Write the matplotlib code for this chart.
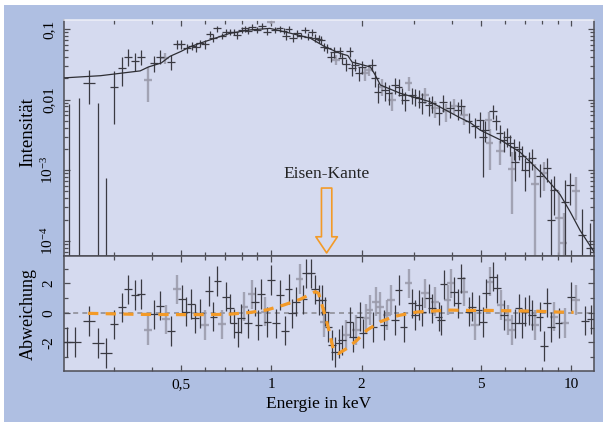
import numpy as np
import matplotlib
matplotlib.use('Agg')
import matplotlib.pyplot as plt
from matplotlib.patches import Rectangle
from matplotlib.ticker import FixedLocator, NullFormatter

plt.rcParams['font.family'] = ['Liberation Serif', 'DejaVu Serif']
plt.rcParams['mathtext.fontset'] = 'custom'
plt.rcParams['mathtext.rm'] = 'Liberation Serif'

# spectrum, instrument 1 (dark crosses): energy [keV], intensity, 1-sigma error
top_e = [0.212, 0.229, 0.248, 0.265, 0.282, 0.300, 0.318, 0.334, 0.352, 0.369,
         0.407, 0.427, 0.464, 0.485, 0.500, 0.524, 0.544, 0.562, 0.580, 0.603,
         0.623, 0.642, 0.662, 0.685, 0.706, 0.730, 0.753, 0.772, 0.799, 0.819,
         0.840, 0.862, 0.896, 0.931, 0.968, 1.031, 1.066, 1.099, 1.122, 1.142,
         1.181, 1.218, 1.256, 1.298, 1.331, 1.367, 1.402, 1.438, 1.465, 1.502,
         1.540, 1.581, 1.622, 1.689, 1.721, 1.778, 1.824, 1.858, 1.905, 1.954,
         2.006, 2.166, 2.222, 2.262, 2.399, 2.460, 2.590, 2.657, 2.728, 2.797,
         2.944, 3.020, 3.097, 3.179, 3.345, 3.433, 3.612, 3.736, 3.951, 4.178,
         4.289, 4.547, 4.786, 4.973, 5.077, 5.168, 5.483, 5.623, 5.768, 5.947,
         6.105, 6.261, 6.430, 6.506, 6.673, 6.850, 7.025, 7.205, 7.396, 7.841,
         8.299, 8.557, 8.777, 9.550, 9.924, 10.86, 11.57]
top_i = [4e-5, 4e-5, 0.0174, 4e-5, 4e-5, 0.0150, 0.0278, 0.0406, 0.0356, 0.0406,
         0.0328, 0.0406, 0.0345, 0.0607, 0.0607, 0.0533, 0.0580, 0.0551, 0.0627, 0.0607,
         0.0850, 0.0754, 0.102, 0.0800, 0.0916, 0.0916, 0.0900, 0.0823, 0.0968, 0.102,
         0.0937, 0.108, 0.0968, 0.110, 0.0916, 0.0970, 0.102, 0.0940, 0.0800, 0.100,
         0.0754, 0.0870, 0.0800, 0.0970, 0.0780, 0.0900, 0.0754, 0.0722, 0.0700, 0.0562,
         0.0533, 0.0406, 0.0468, 0.0480, 0.0385, 0.0317, 0.0480, 0.0278, 0.0310, 0.0236,
         0.0293, 0.0310, 0.0200, 0.0130, 0.0137, 0.0123, 0.0161, 0.0153, 0.0117, 0.0099,
         0.0117, 0.0110, 0.0105, 0.0092, 0.0084, 0.0089, 0.0064, 0.0092, 0.0075, 0.0071,
         0.0082, 0.0049, 0.0042, 0.0052, 0.0030, 0.0037, 0.0068, 0.0049, 0.0034, 0.0027,
         0.0030, 0.0024, 0.0021, 0.0013, 0.0020, 0.0016, 0.0010, 0.0013, 0.0015, 8.2e-4,
         1.08e-3, 2.0e-4, 5.3e-4, 3.5e-4, 6.2e-4, 1.2e-4, 8e-5]
top_err = [0.0087, 0.0105, 0.0088, 0.0090, 0.00073, 0.0105, 0.012, 0.011, 0.010, 0.010,
           0.008, 0.009, 0.008, 0.009, 0.009, 0.008, 0.008, 0.008, 0.008, 0.008,
           0.009, 0.009, 0.010, 0.009, 0.009, 0.009, 0.009, 0.009, 0.010, 0.010,
           0.010, 0.010, 0.010, 0.010, 0.010, 0.010, 0.010, 0.010, 0.010, 0.010,
           0.009, 0.010, 0.009, 0.010, 0.009, 0.010, 0.009, 0.009, 0.009, 0.008,
           0.008, 0.007, 0.008, 0.008, 0.007, 0.006, 0.008, 0.006, 0.006, 0.005,
           0.006, 0.006, 0.005, 0.004, 0.004, 0.004, 0.004, 0.004, 0.003, 0.003,
           0.003, 0.003, 0.003, 0.003, 0.0025, 0.0025, 0.002, 0.0025, 0.002, 0.002,
           0.002, 0.0015, 0.0013, 0.0015, 0.0022, 0.0012, 0.0015, 0.0012, 0.001, 0.0009,
           0.0009, 0.0008, 0.0007, 0.0006, 0.0006, 0.0006, 0.0005, 0.0005, 0.0005, 0.0004,
           0.0004, 0.00055, 0.0003, 0.00038, 0.0003, 0.00016, 0.0001]

# spectrum, instrument 2 (grey crosses)
topg_e = [0.388, 0.443, 0.998, 1.647, 2.057, 2.110, 2.339, 2.525, 2.869, 3.261,
          3.521, 3.831, 4.074, 4.399, 5.300, 5.341, 5.800, 6.343, 7.586, 8.087,
          9.120, 9.426, 10.39]
topg_i = [0.0190, 0.0385, 0.124, 0.0365, 0.0236, 0.0263, 0.0153, 0.0099, 0.0171, 0.0117,
          0.0075, 0.0068, 0.0082, 0.0061, 0.0052, 0.0024, 0.0019, 0.00104, 6.4e-4, 9.1e-4,
          2.1e-4, 9.4e-5, 5.0e-4]
topg_err = [0.0097, 0.007, 0.006, 0.006, 0.005, 0.005, 0.004, 0.003, 0.004, 0.003,
            0.002, 0.002, 0.002, 0.0018, 0.0015, 0.0014, 0.0007, 0.0008, 0.0006, 0.0004,
            0.0003, 0.00015, 0.0003]

# continuum model
model_e = [0.204, 0.27, 0.366, 0.39, 0.43, 0.46, 0.50, 0.537, 0.58, 0.65,
           0.73, 0.85, 0.99, 1.16, 1.35, 1.51, 1.70, 1.80, 1.86, 2.14,
           2.22, 2.31, 2.69, 3.39, 4.27, 4.61, 4.97, 5.79, 6.75, 7.94,
           8.5, 9.18, 9.9, 10.7, 11.9]
model_i = [0.0203, 0.0218, 0.0255, 0.029, 0.033, 0.041, 0.048, 0.056, 0.063, 0.074,
           0.087, 0.097, 0.102, 0.087, 0.074, 0.056, 0.045, 0.042, 0.034, 0.029,
           0.0224, 0.0161, 0.0123, 0.0093, 0.0055, 0.0047, 0.0037, 0.0027, 0.0018, 9.2e-4,
           6.6e-4, 4.5e-4, 2.6e-4, 1.4e-4, 7e-5]

# residuals (sigma units), instrument 1 / instrument 2
res_e = [0.2085, 0.2222, 0.2479, 0.2657, 0.2818, 0.3004, 0.3179, 0.3344, 0.3521, 0.3687,
         0.4074, 0.4266, 0.4642, 0.5039, 0.5207, 0.5397, 0.5578, 0.5798, 0.6213, 0.6422,
         0.6622, 0.7063, 0.7302, 0.7489, 0.7723, 0.7943, 0.8362, 0.8845, 0.9071, 0.9241,
         0.9720, 0.9977, 1.039, 1.072, 1.113, 1.142, 1.172, 1.212, 1.275, 1.308,
         1.356, 1.402, 1.438, 1.476, 1.514, 1.552, 1.593, 1.634, 1.676, 1.721,
         1.824, 1.872, 1.969, 2.021, 2.183, 2.368, 2.590, 2.657, 2.761, 2.944,
         3.020, 3.097, 3.179, 3.345, 3.433, 3.612, 3.679, 3.752, 4.074, 4.178,
         4.289, 4.547, 4.667, 4.909, 5.077, 5.208, 5.483, 5.652, 5.980, 6.506,
         6.673, 6.850, 7.025, 7.205, 7.396, 7.841, 8.087, 8.299, 8.557, 9.073,
         9.977, 11.13, 11.63]
res_v = [-1.97, -1.97, -0.56, -2.04, -2.72, -0.79, 0.37, 1.59, 1.20, 1.27,
         -0.11, 0.48, -1.25, 0.91, 0.07, 0.59, -0.38, -0.04, 1.48, -0.27,
         2.16, 1.09, 0.30, -0.72, -1.33, -0.38, -0.72, 0.75, -0.84, 1.27,
         -0.61, 2.22, -0.72, 1.20, -1.22, 1.61, -0.04, 0.75, 0.91, 2.68,
         2.68, 1.59, 0.86, 0.86, 0.07, -0.95, -2.20, -2.65, -2.08, -1.86,
         -0.61, -1.63, -0.27, -1.40, -0.95, -0.84, -0.50, 1.54, -0.95, 0.64,
         -0.16, 0.52, 0.07, 0.98, 0.30, -0.27, -0.50, 1.93, 1.43, 0.64,
         2.34, 0.07, 0.41, 0.18, -0.61, 1.32, 2.45, 1.66, -0.16, -0.72,
         0.30, -0.72, 0.07, 0.18, -0.16, -0.27, -2.27, 0.68, -0.95, -0.68,
         1.09, -0.54, -0.45]
resg_e = [0.3882, 0.4457, 0.4851, 0.6026, 0.6851, 0.8147, 0.8624, 0.9550, 1.243, 1.494,
          1.774, 1.919, 2.073, 2.126, 2.239, 2.309, 2.431, 2.506, 2.869, 3.261,
          3.521, 3.869, 3.972, 4.399, 4.786, 5.341, 5.830, 6.134, 6.343, 7.586,
          8.777, 9.550, 10.39]
resg_v = [-1.16, -0.45, 1.59, -0.84, -0.79, 0.41, 1.25, 0.07, 2.29, -0.61,
          -1.52, -1.18, -0.38, 0.18, 0.75, 0.41, -0.16, 0.86, 2.00, 1.32,
          0.75, 0.86, 2.00, 1.43, -0.84, 2.11, 0.52, -0.50, -1.18, -0.84,
          -0.27, -0.68, 0.86]

# smoothed residual showing the iron edge
fit_e = [0.2455, 0.366, 0.5495, 0.7132, 0.8511, 0.9698, 1.099, 1.249, 1.402, 1.438,
         1.494, 1.552, 1.613, 1.676, 1.788, 1.931, 2.084, 2.309, 2.556, 2.692,
         3.060, 3.467, 3.951, 4.491, 5.236, 5.947, 6.850, 7.780, 8.963, 10.18]
fit_v = [-0.04, -0.11, -0.13, -0.11, 0.02, 0.20, 0.52, 0.91, 1.43, 1.32,
         0.18, -1.06, -2.54, -2.76, -2.42, -1.86, -1.18, -0.61, -0.27, -0.16,
         0.05, 0.12, 0.18, 0.16, 0.16, 0.14, 0.12, 0.10, 0.05, 0.03]

edge_e = 1.53

xticks = [0.5, 1, 2, 5, 10]
xtick_labels = ['0,5', '1', '2', '5', '10']
xminor = [0.3, 0.4, 0.6, 0.7, 0.8, 0.9, 3, 4, 6, 7, 8, 9]
yticks_top = [1e-4, 1e-3, 1e-2, 1e-1]
ytick_labels_top = [r'$\mathregular{10^{-4}}$', r'$\mathregular{10^{-3}}$', '0,01', '0,1']
yticks_res = [-2, 0, 2]
ytick_labels_res = ['-2', '0', '2']

panel = '#d5daef'
orange = '#f39a27'
dark = '#3a3a42'
grey = '#9a9aaa'
spine = '#4d4d55'

fig = plt.figure(figsize=(6.03, 4.22), dpi=100)
fig.patch.set_facecolor('white')
fig.patches.append(Rectangle((4 / 603, 0), 599 / 603, 417 / 422,
                             transform=fig.transFigure, facecolor='#afbfe2',
                             edgecolor='none', zorder=-10))

ax1 = fig.add_axes([64 / 603, 166 / 422, 530 / 603, 236 / 422])
ax2 = fig.add_axes([64 / 603, 51 / 422, 530 / 603, 115 / 422])


def crosses(ax, e, v, err, color, lw, log=False, z=2, alpha=1.0):
    e = np.asarray(e)
    v = np.asarray(v)
    err = np.asarray(err, dtype=float) * np.ones_like(v)
    lo = np.minimum(err, v - 1e-8) if log else err
    xe = e * np.where(e < 0.3, 0.045, 0.03)
    ax.errorbar(e, v, yerr=[lo, err], xerr=xe, fmt='none', ecolor=color,
                elinewidth=lw, capsize=0, zorder=z, alpha=alpha)


# top: spectrum
crosses(ax1, topg_e, topg_i, topg_err, grey, 1.7, log=True, z=2, alpha=0.85)
crosses(ax1, top_e, top_i, top_err, dark, 0.9, log=True, z=3)
ax1.plot(model_e, model_i, color='#2e2e34', lw=0.9, zorder=4)

ax1.set_yscale('log')
ax1.set_ylim(6.1e-5, 0.134)
ax1.yaxis.set_major_locator(FixedLocator(yticks_top))
ax1.set_yticklabels(ytick_labels_top)
ax1.yaxis.set_minor_locator(matplotlib.ticker.LogLocator(base=10, subs=np.arange(2, 10)))
ax1.yaxis.set_minor_formatter(NullFormatter())
ax1.set_ylabel('Intensität', fontsize=13.5)
ax1.yaxis.set_label_coords(-0.052, 0.525)

ax1.text(edge_e, 0.347, 'Eisen-Kante', transform=ax1.get_xaxis_transform(),
         ha='center', va='center', fontsize=12.5, color='#222222')
ax1.annotate('', xy=(edge_e, 0.013), xytext=(edge_e, 0.288),
             xycoords=ax1.get_xaxis_transform(), textcoords=ax1.get_xaxis_transform(),
             arrowprops=dict(arrowstyle='simple,head_length=0.75,head_width=1.0,tail_width=0.48',
                             mutation_scale=15.5, fc=panel, ec=orange, lw=1.2,
                             shrinkA=0, shrinkB=0))

# bottom: residuals
ax2.axhline(0, color='#8f8f98', lw=1.2, ls=(0, (3, 2.5)), zorder=1)
crosses(ax2, resg_e, resg_v, 1.0, grey, 1.7, z=2, alpha=0.85)
crosses(ax2, res_e, res_v, 1.0, dark, 0.9, z=3)
ax2.plot(fit_e, fit_v, color=orange, lw=2.3, ls=(0, (3.2, 2.3)), zorder=4)

ax2.set_ylim(-3.95, 3.85)
ax2.yaxis.set_major_locator(FixedLocator(yticks_res))
ax2.set_yticklabels(ytick_labels_res)
ax2.yaxis.set_minor_locator(FixedLocator([-3, -1, 1, 3]))
ax2.set_ylabel('Abweichung', fontsize=13)
ax2.yaxis.set_label_coords(-0.052, 0.5)
ax2.set_xlabel('Energie in keV', fontsize=12.5)
ax2.xaxis.set_label_coords(0.48, -0.22)

for ax in (ax1, ax2):
    ax.set_facecolor(panel)
    ax.set_xscale('log')
    ax.set_xlim(0.204, 11.9)
    ax.xaxis.set_major_locator(FixedLocator(xticks))
    ax.xaxis.set_minor_locator(FixedLocator(xminor))
    ax.xaxis.set_minor_formatter(NullFormatter())
    ax.tick_params(which='both', direction='in', top=True, right=True,
                   color=spine, width=0.9, labelsize=11)
    ax.tick_params(which='major', length=4.5, pad=5)
    ax.tick_params(which='minor', length=3)
    ax.tick_params(axis='y', labelrotation=90, pad=6)
    for lab in ax.get_yticklabels():
        lab.set_va('center')
    for s in ax.spines.values():
        s.set_color(spine)
        s.set_linewidth(1.1)

ax1.set_xticklabels([])
ax2.set_xticklabels(xtick_labels)
ax1.spines['top'].set_color('#eef0f8')

fig.savefig('out.png', dpi=100)
